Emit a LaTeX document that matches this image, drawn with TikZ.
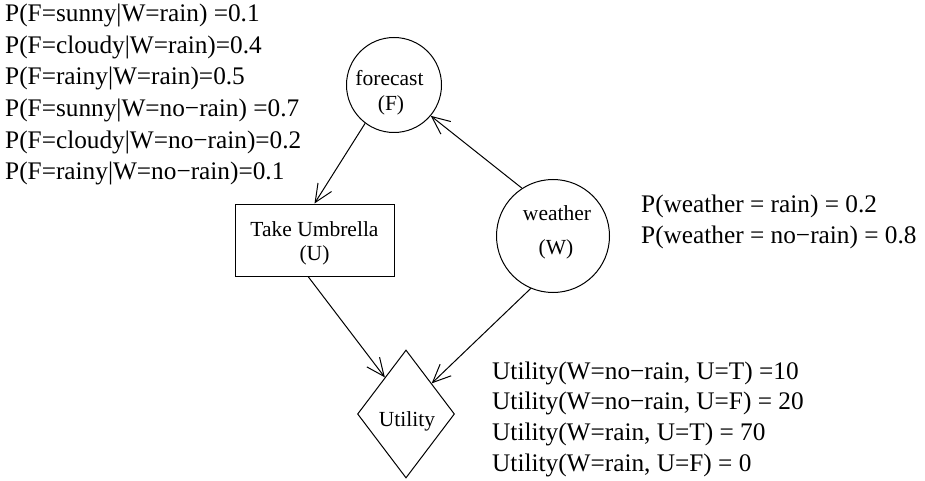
\documentclass[tikz,border=0pt]{standalone}
\usepackage{fontspec}
\setmainfont{Liberation Serif}
\usetikzlibrary{shapes.geometric,arrows.meta}
\tikzset{
  tbl/.style={anchor=west,inner sep=0pt,font=\fontsize{25.3pt}{31pt}\selectfont},
  shp/.style={draw,line width=1pt,inner sep=0pt},
  lbl/.style={anchor=base,inner sep=0pt,font=\fontsize{21.5pt}{25pt}\selectfont},
  conn/.style={line width=1pt,-{Straight Barb[length=18pt,width=16pt,line width=1pt]}}
}
\begin{document}
\begin{tikzpicture}[x=1pt,y=-1pt]
\useasboundingbox (0,0) rectangle (925,481);
% left table
\node[tbl] (t1) at (5,15) {P(F=sunny|W=rain) =0.1};
\node[tbl] (t2) at (5,47) {P(F=cloudy|W=rain)=0.4};
\node[tbl] (t3) at (5,78) {P(F=rainy|W=rain)=0.5};
\node[tbl] (t4) at (5,110) {P(F=sunny|W=no−rain) =0.7};
\node[tbl] (t5) at (5,142) {P(F=cloudy|W=no−rain)=0.2};
\node[tbl] (t6) at (5,173) {P(F=rainy|W=no−rain)=0.1};
% right tables
\node[tbl] (p1) at (641,206) {P(weather = rain) = 0.2};
\node[tbl] (p2) at (641,237) {P(weather = no−rain) = 0.8};
\node[tbl] (u1) at (492,373) {Utility(W=no−rain, U=T) =10};
\node[tbl] (u2) at (492,403) {Utility(W=no−rain, U=F) = 20};
\node[tbl] (u3) at (492,434) {Utility(W=rain, U=T) = 70};
\node[tbl] (u4) at (492,465) {Utility(W=rain, U=F) = 0};
% shapes
\node[shp,circle,minimum size=95pt] (F) at (394,85) {};
\node[shp,circle,minimum size=113pt] (W) at (553,236) {};
\node[shp,rectangle,minimum width=159pt,minimum height=72pt] (U) at (314.5,240) {};
\node[shp,diamond,minimum width=97pt,minimum height=128pt,shape aspect=0.758] (Ut) at (406,414) {};
% labels
\node[lbl] (Fa) at (389.5,86) {forecast};
\node[lbl] (Fb) at (391,111) {(F)};
\node[lbl] (Wa) at (557,220.5) {weather};
\node[lbl] (Wb) at (556,254) {(W)};
\node[lbl] (Ua) at (314.5,236.5) {Take Umbrella};
\node[lbl] (Ub) at (314.5,260.5) {(U)};
\node[lbl] (Uta) at (407,426.5) {Utility};
% connectors
\draw[conn] (F.233) -- (U.north);
\draw[conn] (W.123) -- (F.320);
\draw[conn] (U.260) -- (Ut.120);
\draw[conn] (W.247) -- (Ut.50);
\end{tikzpicture}
\end{document}
